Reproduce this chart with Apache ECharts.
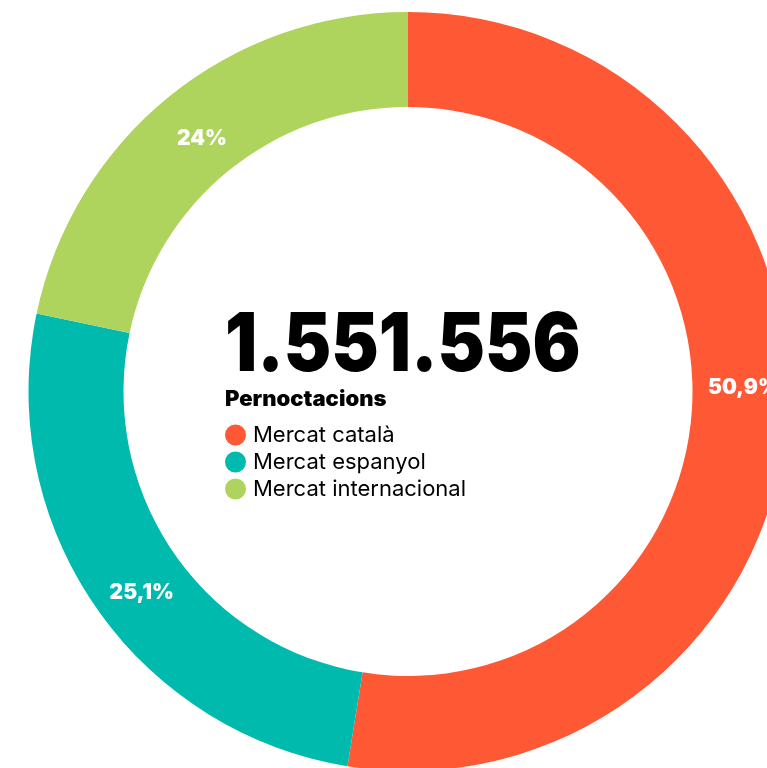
<!DOCTYPE html>
<html>
<head>
<meta charset="utf-8">
<script src="https://cdn.jsdelivr.net/npm/echarts@6/dist/echarts.min.js"></script>
<style>
html,body{margin:0;padding:0;background:#fff;}
#chart{width:767px;height:768px;}
</style>
</head>
<body>
<div id="chart"></div>
<script>
const categories = ['Mercat català', 'Mercat espanyol', 'Mercat internacional'];
// arc sizes as drawn in the picture (percent of the ring)
const arcShares = [52.55, 25.75, 21.7];
// printed labels
const shareLabels = ['50,9%', '25,1%', '24%'];
const colors = ['#FF5835', '#00BAAD', '#AFD45E'];
const totalLabel = '1.551.556';
const subtitle = 'Pernoctacions';
const labelOffsets = [[2, -31], [10, 12], [5, 7]];

const chart = echarts.init(document.getElementById('chart'));
chart.setOption({
  animation: false,
  graphic: [
    {
      type: 'text', x: 225, y: 306, scaleX: 0.88, silent: true,
      style: { text: totalLabel, x: 0, y: 0, fill: '#000', font: '900 81px Inter', textVerticalAlign: 'top' }
    },
    {
      type: 'text', x: 225, y: 389, scaleX: 1.05, silent: true,
      style: { text: subtitle, x: 0, y: 0, fill: '#000', font: '900 21px Inter', textVerticalAlign: 'top' }
    }
  ],
  legend: {
    orient: 'vertical',
    left: 225, top: 424,
    padding: 0,
    icon: 'circle',
    itemWidth: 21, itemHeight: 21, itemGap: 5,
    selectedMode: false,
    textStyle: { fontFamily: 'Inter', fontSize: 22, color: '#000', padding: [0, 0, 0, 2] },
    data: categories
  },
  series: [{
    type: 'pie',
    center: [408, 391.5],
    radius: [284.5, 379.5],
    startAngle: 90,
    clockwise: true,
    silent: true,
    label: {
      show: true,
      position: 'inside',
      color: '#fff',
      fontFamily: 'Inter',
      fontWeight: 900,
      fontSize: 21
    },
    labelLine: { show: false },
    data: categories.map((c, i) => ({
      name: c,
      value: arcShares[i],
      itemStyle: { color: colors[i] },
      label: { formatter: shareLabels[i], offset: labelOffsets[i] }
    }))
  }]
});
</script>
</body>
</html>
